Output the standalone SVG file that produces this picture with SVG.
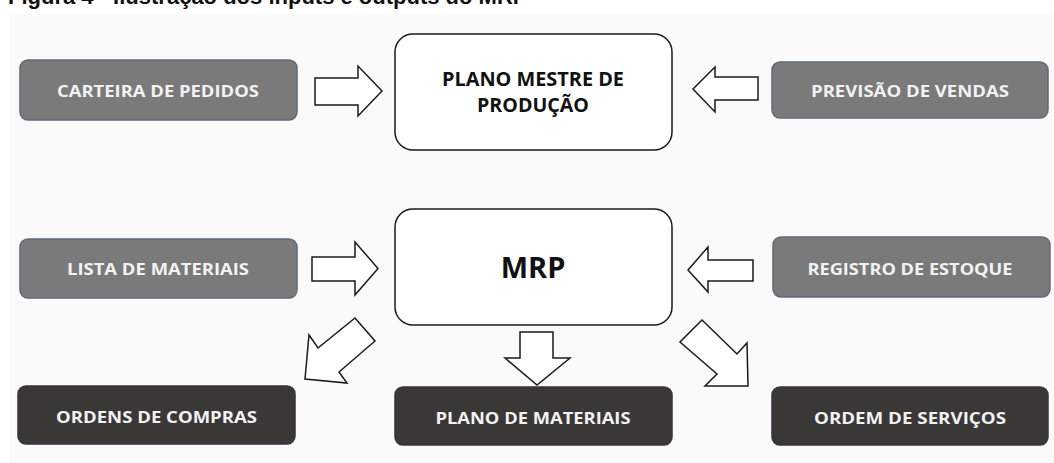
<svg xmlns="http://www.w3.org/2000/svg" width="1054" height="463" viewBox="0 0 1054 463">
<style>
.gray{fill:#7a7a7a;stroke:#5f6978;stroke-width:1.5}
.dark{fill:#3a3737;stroke:#34343c;stroke-width:1.5}
.white{fill:#ffffff;stroke:#1a1a1a;stroke-width:1.5}
.lt{font-family:"Open Sans","DejaVu Sans",sans-serif;font-weight:700;font-size:16.5px;fill:#f2f2f2;text-anchor:middle}
.bt{font-family:"Open Sans","DejaVu Sans",sans-serif;font-weight:700;fill:#111111;text-anchor:middle}
.arr{fill:#ffffff;stroke:#1a1a1a;stroke-width:1.5;stroke-linejoin:miter}
</style>
<rect x="0" y="0" width="1054" height="463" fill="#ffffff"/>
<rect x="9" y="15" width="1045" height="448" fill="#fafafa"/>
<text x="8" y="4" font-family="Liberation Sans, Arial, sans-serif" font-weight="700" font-size="22" fill="#111">Figura 4 - Ilustração dos inputs e outputs do MRP</text>

<g id="carteira">
<rect class="gray" x="20" y="60" width="277" height="60" rx="8"/>
<text class="lt" x="158" y="97" textLength="202" lengthAdjust="spacingAndGlyphs">CARTEIRA DE PEDIDOS</text>
</g>
<g id="plano-mestre">
<rect class="white" x="395" y="34" width="277" height="116" rx="18"/>
<text class="bt" x="533" y="86" font-size="20" textLength="182" lengthAdjust="spacingAndGlyphs">PLANO MESTRE DE</text>
<text class="bt" x="533" y="112" font-size="20" textLength="112" lengthAdjust="spacingAndGlyphs">PRODUÇÃO</text>
</g>
<g id="previsao">
<rect class="gray" x="772" y="62" width="276" height="56" rx="8"/>
<text class="lt" x="910" y="96.5" textLength="198" lengthAdjust="spacingAndGlyphs">PREVISÃO DE VENDAS</text>
</g>
<g id="lista">
<rect class="gray" x="20" y="239" width="277" height="59" rx="8"/>
<text class="lt" x="158" y="275" textLength="182" lengthAdjust="spacingAndGlyphs">LISTA DE MATERIAIS</text>
</g>
<g id="mrp">
<rect class="white" x="395" y="209" width="277" height="116" rx="18"/>
<text class="bt" x="533" y="278" font-size="29">MRP</text>
</g>
<g id="registro">
<rect class="gray" x="773" y="237" width="277" height="60" rx="8"/>
<text class="lt" x="910" y="275" textLength="205" lengthAdjust="spacingAndGlyphs">REGISTRO DE ESTOQUE</text>
</g>
<g id="ordens-compras">
<rect class="dark" x="18" y="386" width="277" height="58" rx="8"/>
<text class="lt" x="156.5" y="422.5" textLength="201" lengthAdjust="spacingAndGlyphs">ORDENS DE COMPRAS</text>
</g>
<g id="plano-materiais">
<rect class="dark" x="395" y="387" width="277" height="58" rx="8"/>
<text class="lt" x="533" y="423.5" textLength="195" lengthAdjust="spacingAndGlyphs">PLANO DE MATERIAIS</text>
</g>
<g id="ordem-servicos">
<rect class="dark" x="772" y="387" width="276" height="58" rx="8"/>
<text class="lt" x="910" y="423.5" textLength="192" lengthAdjust="spacingAndGlyphs">ORDEM DE SERVIÇOS</text>
</g>

<g id="connectors">
<polygon class="arr" points="315,78 358,78 358,66 382,91 358,116 358,105 315,105"/>
<polygon class="arr" points="693,89 715,67 715,77 758,77 758,100 715,100 715,112"/>
<polygon class="arr" points="312,257 355,257 355,242 378,268.5 355,295 355,281 312,281"/>
<polygon class="arr" points="688,270 708,247 708,260 753,260 753,281 708,281 708,292"/>
<polygon class="arr" points="520,332 553,332 553,358 570,358 537,385 505,358 520,358"/>
<polygon class="arr" points="305,379 309,335 318,348 355,318 375,341 339,372 347,383"/>
<polygon class="arr" points="702,320 737,354 747,343 748,386 705,386 717,374 680,342"/>
</g>
</svg>
